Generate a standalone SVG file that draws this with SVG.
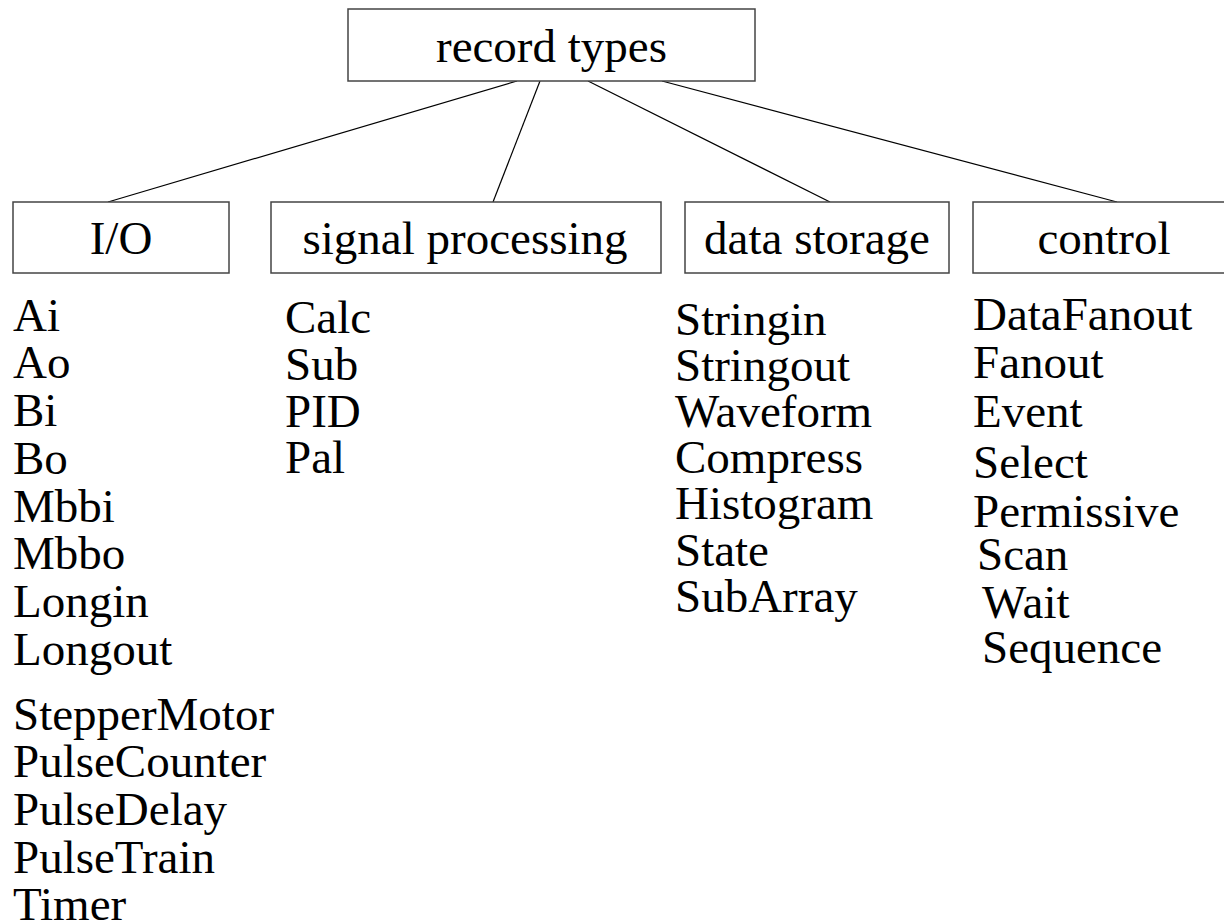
<svg xmlns="http://www.w3.org/2000/svg" width="1224" height="924" viewBox="0 0 1224 924">
<style>
text{font-family:"Liberation Serif","Times New Roman",serif;font-size:47px;fill:#000}
.box{fill:#fff;stroke:#444;stroke-width:1.5}
.c{text-anchor:middle}
#connectors line{stroke:#000;stroke-width:1.2}
</style>
<rect width="1224" height="924" fill="#fff"/>
<g id="connectors">
<line x1="517" y1="81" x2="108" y2="202"/>
<line x1="540" y1="81" x2="493" y2="202"/>
<line x1="588" y1="81" x2="830" y2="202"/>
<line x1="662" y1="81" x2="1117" y2="202"/>
</g>
<g id="record-types">
<rect class="box" x="348" y="9" width="407" height="72"/>
<text class="c" x="551.5" y="62">record types</text>
</g>
<g id="io">
<rect class="box" x="13" y="202" width="216" height="71"/>
<text class="c" x="121" y="254">I/O</text>
</g>
<g id="signal-processing">
<rect class="box" x="271" y="202" width="390" height="71"/>
<text class="c" x="465" y="254">signal processing</text>
</g>
<g id="data-storage">
<rect class="box" x="685" y="202" width="264" height="71"/>
<text class="c" x="817" y="254">data storage</text>
</g>
<g id="control">
<rect class="box" x="973" y="202" width="262" height="71"/>
<text class="c" x="1104" y="254">control</text>
</g>
<g id="io-list">
<text x="13" y="331">Ai</text>
<text x="13" y="378">Ao</text>
<text x="13" y="426">Bi</text>
<text x="13" y="474">Bo</text>
<text x="13" y="522">Mbbi</text>
<text x="13" y="569">Mbbo</text>
<text x="13" y="617">Longin</text>
<text x="13" y="665">Longout</text>
<text x="13" y="730">StepperMotor</text>
<text x="13" y="777">PulseCounter</text>
<text x="13" y="825">PulseDelay</text>
<text x="13" y="873">PulseTrain</text>
<text x="13" y="920">Timer</text>
</g>
<g id="signal-list">
<text x="285" y="333">Calc</text>
<text x="285" y="380">Sub</text>
<text x="285" y="427">PID</text>
<text x="285" y="473">Pal</text>
</g>
<g id="storage-list">
<text x="675" y="335">Stringin</text>
<text x="675" y="381">Stringout</text>
<text x="675" y="427">Waveform</text>
<text x="675" y="473">Compress</text>
<text x="675" y="519">Histogram</text>
<text x="675" y="566">State</text>
<text x="675" y="612">SubArray</text>
</g>
<g id="control-list">
<text x="973" y="330">DataFanout</text>
<text x="973" y="378">Fanout</text>
<text x="973" y="427">Event</text>
<text x="973" y="478">Select</text>
<text x="973" y="527">Permissive</text>
<text x="977" y="570">Scan</text>
<text x="982" y="618">Wait</text>
<text x="982" y="663">Sequence</text>
</g>
</svg>
